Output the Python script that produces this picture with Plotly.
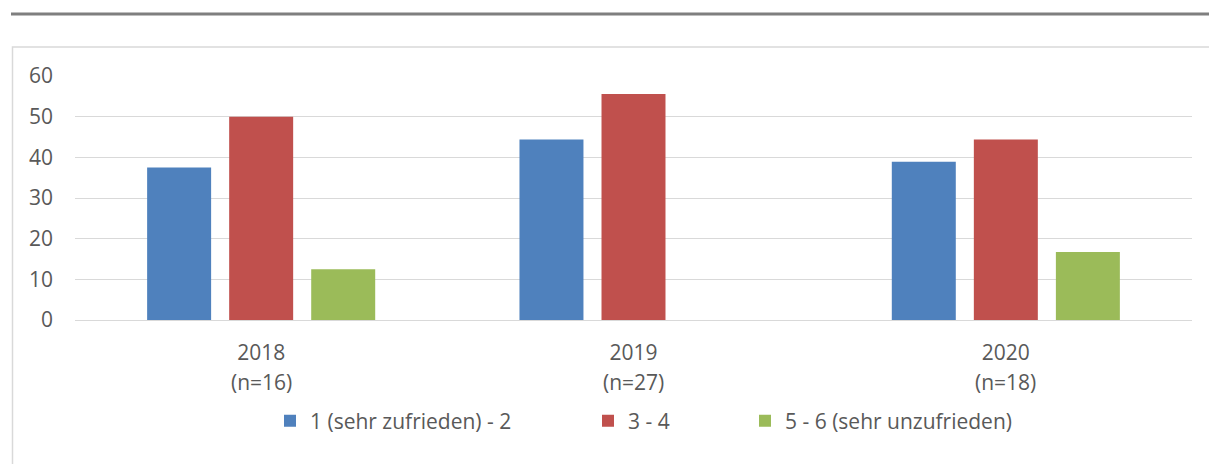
import plotly.graph_objects as go

categories = ["2018", "2019", "2020"]
sample_sizes = ["(n=16)", "(n=27)", "(n=18)"]
series_names = ["1 (sehr zufrieden) - 2", "3 - 4", "5 - 6 (sehr unzufrieden)"]
vals_1_2 = [37.5, 44.4, 38.9]
vals_3_4 = [50.0, 55.6, 44.4]
vals_5_6 = [12.5, 0.0, 16.7]
colors = ["#4f81bd", "#c0504d", "#9bbb59"]
y_ticks = [0, 10, 20, 30, 40, 50, 60]

FONT = "Open Sans, Liberation Sans, sans-serif"
TXT = "#595959"

fig = go.Figure()
legend_ids = ["legend", "legend2", "legend3"]
for name, vals, col, lg in zip(series_names, [vals_1_2, vals_3_4, vals_5_6], colors, legend_ids):
    fig.add_trace(go.Bar(x=categories, y=vals, name=name, marker=dict(color=col, line=dict(width=0)),
                         legend=lg, hoverinfo="y+name"))

W, H = 1209, 464
L, R, T, B = 75, 17, 76, 144
pw, ph = W - L - R, H - T - B

def px_x(p):
    return (p - L) / pw

def px_y(p):
    return (H - B - p) / ph

legend_common = dict(orientation="h", xref="container", yref="container", yanchor="middle",
                     xanchor="left",
                     font=dict(family=FONT, size=21, color=TXT), bgcolor="rgba(0,0,0,0)")
legend_x = [270, 588, 745]
fig.update_layout(
    width=W, height=H,
    margin=dict(l=L, r=R, t=T, b=B),
    paper_bgcolor="white", plot_bgcolor="white",
    barmode="group", bargap=0.339, bargroupgap=0.22,
    showlegend=True,
    legend=dict(x=legend_x[0] / W, y=1 - 421 / H, **legend_common),
    legend2=dict(x=legend_x[1] / W, y=1 - 421 / H, **legend_common),
    legend3=dict(x=legend_x[2] / W, y=1 - 421 / H, **legend_common),
    xaxis=dict(type="category", categoryorder="array", categoryarray=categories,
               range=[-0.5, len(categories) - 0.5], autorange=False,
               showgrid=False, showline=False, zeroline=False, ticks="",
               tickfont=dict(family=FONT, size=21, color=TXT), ticklabelstandoff=18),
    yaxis=dict(range=[0, 60], autorange=False, tickvals=y_ticks, showgrid=True, gridcolor="#d9d9d9", gridwidth=1,
               zeroline=True, zerolinecolor="#d9d9d9", zerolinewidth=1, showline=False, ticks="",
               tickfont=dict(family=FONT, size=21, color=TXT), ticklabelstandoff=21),
    shapes=[
        dict(type="line", xref="paper", yref="paper", x0=px_x(11), x1=px_x(1215), y0=px_y(14), y1=px_y(14),
             line=dict(color="#7f7f7f", width=3)),
        dict(type="rect", xref="paper", yref="paper", x0=px_x(12.5), x1=px_x(1220), y0=px_y(47), y1=px_y(480),
             line=dict(color="#d9d9d9", width=1.5), fillcolor="rgba(0,0,0,0)", layer="below"),
    ],
)

for i, n in enumerate(sample_sizes):
    fig.add_annotation(x=i, y=0, xref="x", yref="y", text=n, showarrow=False, yshift=-62,
                       yanchor="middle", font=dict(family=FONT, size=21, color=TXT))

fig.write_html("out.html", config={"displayModeBar": False},
               post_script="document.body.style.margin='0';document.body.style.overflow='hidden';")
